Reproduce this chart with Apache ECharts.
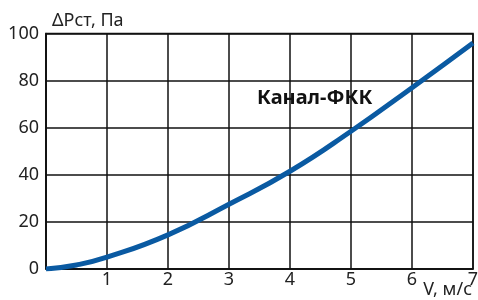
<!DOCTYPE html>
<html>
<head>
<meta charset="utf-8">
<script src="https://cdn.jsdelivr.net/npm/echarts@6/dist/echarts.min.js"></script>
<style>
  html, body { margin: 0; padding: 0; background: #fff; }
  #chart { width: 478px; height: 300px; }
</style>
</head>
<body>
<div id="chart"></div>
<script>
// скорость, м/с
var speed = [0, 0.5, 1, 2, 3, 4, 5, 6, 7];
// потери давления, Па (по графику)
var pressure = [0, 1.7, 5, 14.5, 27.5, 41.5, 58.5, 77, 96];
var seriesName = 'Канал-ФКК';

var points = [];
for (var i = 0; i < speed.length; i++) {
	points.push([speed[i], pressure[i]]);
}

var font = '"Noto Sans", "Open Sans", sans-serif';
var gridLine = { show: true, lineStyle: { color: '#111', width: 1.5 } };

var myChart = echarts.init(document.getElementById('chart'));
var option = {
	animation: false,
	grid: {
		left: 46,
		right: 5,
		top: 33.5,
		bottom: 31,
		containLabel: false,
		outerBoundsMode: 'none'
	},
	xAxis: {
		type: 'value',
		min: 0,
		max: 7,
		interval: 1,
		name: 'V, м/с',
		nameLocation: 'end',
		nameGap: -1,
		nameMoveOverlap: false,
		nameTextStyle: {
			fontFamily: font, fontSize: 18, color: '#222',
			align: 'right', verticalAlign: 'top', padding: [12, 0, 0, 0]
		},
		axisLine: { show: true, lineStyle: { color: '#111', width: 1.5 } },
		axisTick: { show: false },
		splitLine: gridLine,
		axisLabel: {
			fontFamily: font, fontSize: 18, color: '#222', margin: 2,
			formatter: function (v) { return v === 0 ? '' : v; }
		}
	},
	yAxis: {
		type: 'value',
		min: 0,
		max: 100,
		interval: 20,
		name: 'ΔPст, Па',
		nameLocation: 'end',
		nameGap: 4,
		nameMoveOverlap: false,
		nameTextStyle: {
			fontFamily: font, fontSize: 18, color: '#222',
			align: 'left', verticalAlign: 'bottom', padding: [0, 0, 0, 6]
		},
		axisLine: { show: true, lineStyle: { color: '#111', width: 1.5 } },
		axisTick: { show: false },
		splitLine: gridLine,
		axisLabel: { fontFamily: font, fontSize: 18, color: '#222', margin: 7 }
	},
	graphic: [{
		type: 'rect',
		shape: { x: 46, y: 33.5, width: 427, height: 235.5 },
		style: { fill: 'none', stroke: '#111', lineWidth: 1.5 },
		z: 1
	}, {
		type: 'text',
		left: 257,
		top: 88,
		style: {
			text: seriesName,
			font: 'bold 20px ' + font,
			fill: '#111'
		},
		z: 10
	}],
	series: [{
		name: seriesName,
		type: 'line',
		data: points,
		smooth: true,
		showSymbol: false,
		lineStyle: { color: '#0a5aa2', width: 5 },
		z: 5
	}]
};
myChart.setOption(option);
</script>
</body>
</html>
